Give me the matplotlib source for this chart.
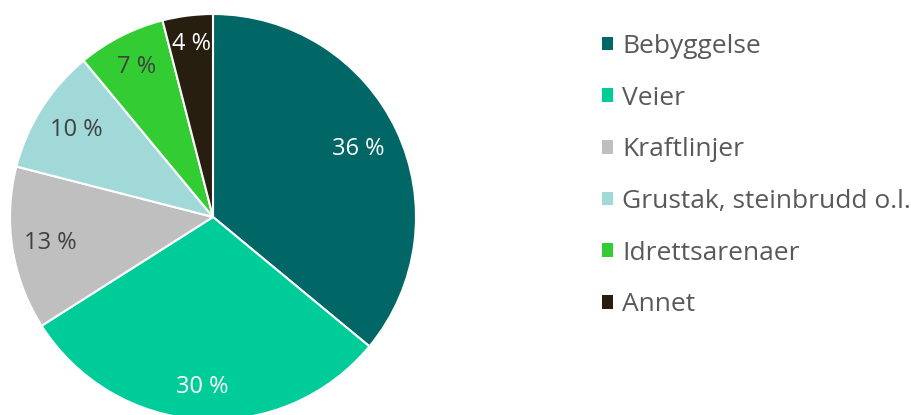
from matplotlib import pyplot as plt
import matplotlib as mpl
import numpy as np

mpl.rcParams['font.family'] = ['Open Sans', 'DejaVu Sans']

# Data
categories = ['Bebyggelse', 'Veier', 'Kraftlinjer', 'Grustak, steinbrudd o.l.',
              'Idrettsarenaer', 'Annet']
shares = [36, 30, 13, 10, 7, 4]
colors = ['#006666', '#00CC99', '#BFBFBF', '#A1D9D9', '#33CC33', '#271E10']
label_colors = ['white', 'white', '#404040', '#404040', '#404040', 'white']
label_r = [0.79, 0.84, 0.81, 0.80, 0.83, 0.86]

fig = plt.figure(figsize=(9.12, 4.15), dpi=100)
ax = fig.add_axes([10/912, -5/415, 406/912, 406/415])

wedges, texts = ax.pie(shares, colors=colors, startangle=90, counterclock=False,
                       wedgeprops=dict(edgecolor='white', linewidth=1.5))
ax.set_xlim(-1, 1)
ax.set_ylim(-1, 1)
ax.set_aspect('equal')

for w, v, c, r in zip(wedges, shares, label_colors, label_r):
    mid = np.deg2rad((w.theta1 + w.theta2) / 2)
    ax.text(r*np.cos(mid), r*np.sin(mid), f'{v} %', color=c, fontsize=17,
            ha='center', va='center')

fig.legend(wedges, categories, loc='upper left', bbox_to_anchor=(602/912, 1 - 34/415),
           frameon=False, fontsize=19, handlelength=0.42, handleheight=0.42,
           handletextpad=0.34, labelspacing=1.01, labelcolor='#595959',
           borderaxespad=0, borderpad=0)
for h in fig.legends[0].legend_handles:
    h.set_edgecolor('none')

plt.savefig('out.png', dpi=100)
